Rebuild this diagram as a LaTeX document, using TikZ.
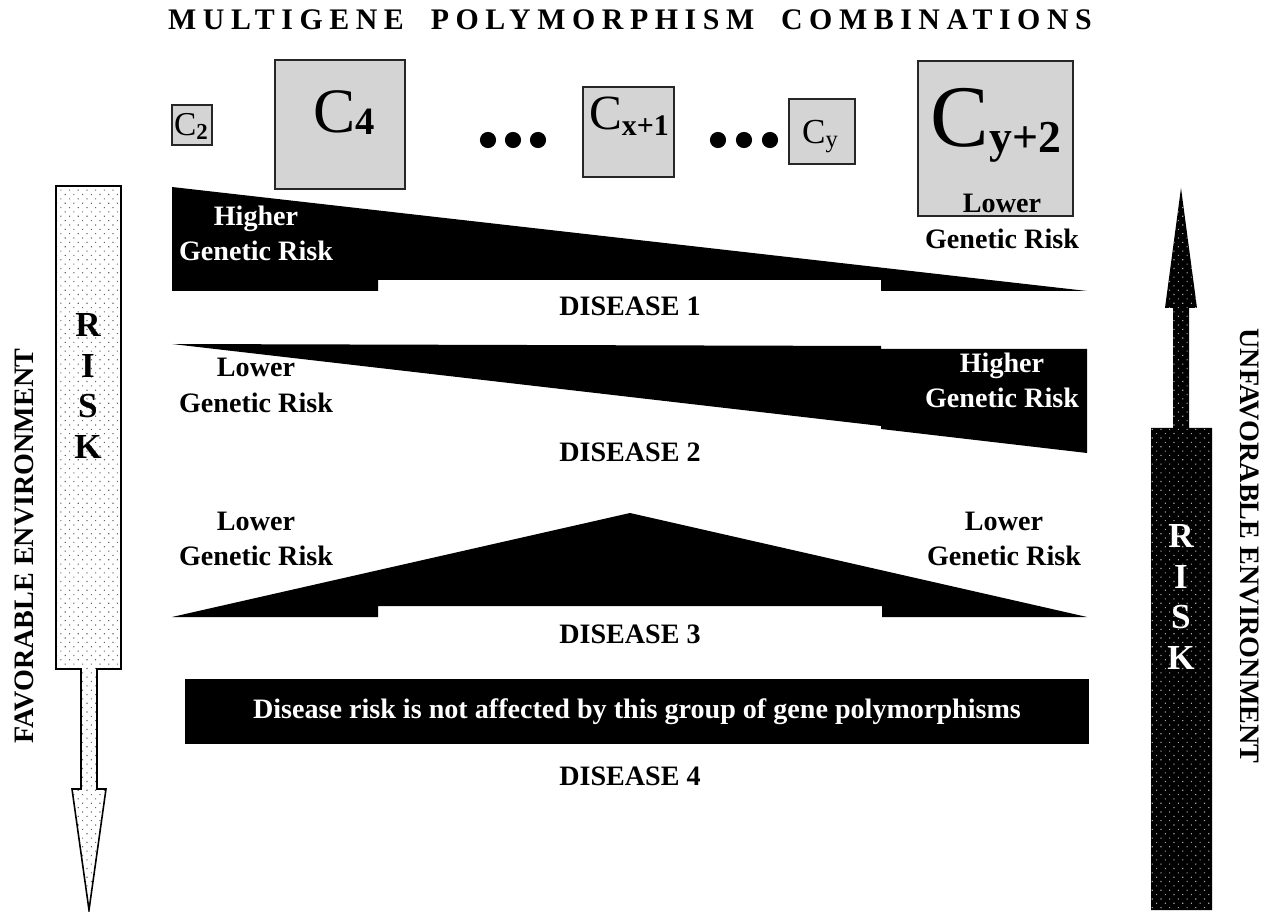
\documentclass[tikz,border=0pt]{standalone}
\usepackage{fontspec}
\setmainfont{Liberation Serif}
\newfontfamily\headfont[LetterSpace=22]{Liberation Serif}
\usetikzlibrary{patterns.meta}

\tikzset{
  combo/.style={draw=black!85, line width=0.9pt, fill=black!17, inner sep=0pt},
  genlbl/.style={font=\fontsize{16}{20}\selectfont\bfseries, align=center, inner sep=0pt},
  dislbl/.style={font=\fontsize{16}{19}\selectfont\bfseries, inner sep=0pt},
  riskword/.style={font=\fontsize{20}{23}\selectfont\bfseries, align=center, inner sep=0pt},
  envlbl/.style={font=\fontsize{16}{19}\selectfont\bfseries, inner sep=0pt},
  dotfill/.style={pattern={Dots[distance=3.5pt, angle=45, radius=0.45pt]}},
}
\newcommand{\comb}[4]{\fontsize{#1}{#1}\selectfont C\raisebox{-#4}{\fontsize{#2}{#2}\selectfont #3}}

\begin{document}
\begin{tikzpicture}[x=0.02cm, y=-0.02cm]
\useasboundingbox (0,0) rectangle (1269,912);

% heading
\node[inner sep=0pt, font=\fontsize{17}{20}\selectfont\headfont\bfseries] (title) at (630,20)
  {MULTIGENE\hspace{0.9em}POLYMORPHISM\hspace{0.9em}COMBINATIONS};

% polymorphism combinations
\node[combo, minimum width=0.8cm, minimum height=0.8cm] (c2box) at (192,125) {};
\node[combo, minimum width=2.6cm, minimum height=2.58cm] (c4box) at (340,124.5) {};
\node[combo, minimum width=1.82cm, minimum height=1.8cm] (cxbox) at (628.5,132) {};
\node[combo, minimum width=1.32cm, minimum height=1.3cm] (cybox) at (822,131.5) {};
\node[combo, minimum width=3.1cm, minimum height=3.1cm] (cyybox) at (995.5,138.5) {};

\node[inner sep=0pt, anchor=base] (c2) at (191,136) {\comb{19}{13}{\bfseries 2}{2pt}};
\node[inner sep=0pt, anchor=base] (c4) at (344,133) {\comb{36}{22}{\bfseries 4}{1pt}};
\node[inner sep=0pt, anchor=base] (cx) at (629,130) {\comb{28}{17}{\bfseries x+1}{3pt}};
\node[inner sep=0pt, anchor=base] (cy) at (820,144) {\comb{20}{14}{y}{2pt}};
\node[inner sep=0pt, anchor=base] (cyy) at (996,147) {\comb{50}{26}{\bfseries y+2}{3pt}};

\foreach \x in {488,513,538,718,744,770}
  \fill (\x,140) circle (4.6pt);

% disease 1
\fill (172,187) -- (1087,291) -- (881,291) -- (881,280) -- (378,280) -- (378,291) -- (172,291) -- cycle;
\node[genlbl, text=white] (d1hi) at (256,233) {Higher\\Genetic Risk};
\node[genlbl] (d1lo) at (1002,221.5) {Lower\\Genetic Risk};
\node[dislbl] (d1) at (630,306) {DISEASE 1};

% disease 2
\fill (172,344) -- (881,346) -- (881,349) -- (1087,349) -- (1087,453) -- (881,429) -- (881,426) -- cycle;
\node[genlbl] (d2lo) at (256,385.5) {Lower\\Genetic Risk};
\node[genlbl, text=white] (d2hi) at (1002,380.5) {Higher\\Genetic Risk};
\node[dislbl] (d2) at (630,452) {DISEASE 2};

% disease 3
\fill (172,617) -- (630,513) -- (1087,617) -- (882,617) -- (882,606) -- (378,606) -- (378,617) -- cycle;
\node[genlbl] (d3lol) at (256,539) {Lower\\Genetic Risk};
\node[genlbl] (d3lor) at (1004,539) {Lower\\Genetic Risk};
\node[dislbl] (d3) at (630,634) {DISEASE 3};

% disease 4
\node[fill=black, text=white, minimum width=18.08cm, minimum height=1.3cm, inner sep=0pt,
  font=\fontsize{16}{19}\selectfont\bfseries] (d4bar) at (637,711.5)
  {Disease risk is not affected by this group of gene polymorphisms};
\node[dislbl] (d4) at (630,776) {DISEASE 4};

% favorable environment
\draw[line width=0.9pt, preaction={fill=white}, dotfill, pattern color=black!60]
  (56,186) -- (121,186) -- (121,669) -- (97,669) -- (97,789) -- (106,789) -- (89,910)
  -- (72,789) -- (81,789) -- (81,669) -- (56,669) -- cycle;
\node[riskword] (riskl) at (88,386) {R\\I\\S\\K};
\node[envlbl, rotate=90] (fav) at (24,546) {FAVORABLE ENVIRONMENT};

% unfavorable environment
\path[fill=black, postaction={dotfill, pattern color=black!35}]
  (1151,910) -- (1151,428) -- (1173,428) -- (1173,308) -- (1165,308) -- (1181,188)
  -- (1197,308) -- (1189,308) -- (1189,428) -- (1212,428) -- (1212,910) -- cycle;
\node[riskword, text=white] (riskr) at (1181,597) {R\\I\\S\\K};
\node[envlbl, rotate=-90] (unfav) at (1250,546) {UNFAVORABLE ENVIRONMENT};
\end{tikzpicture}
\end{document}
